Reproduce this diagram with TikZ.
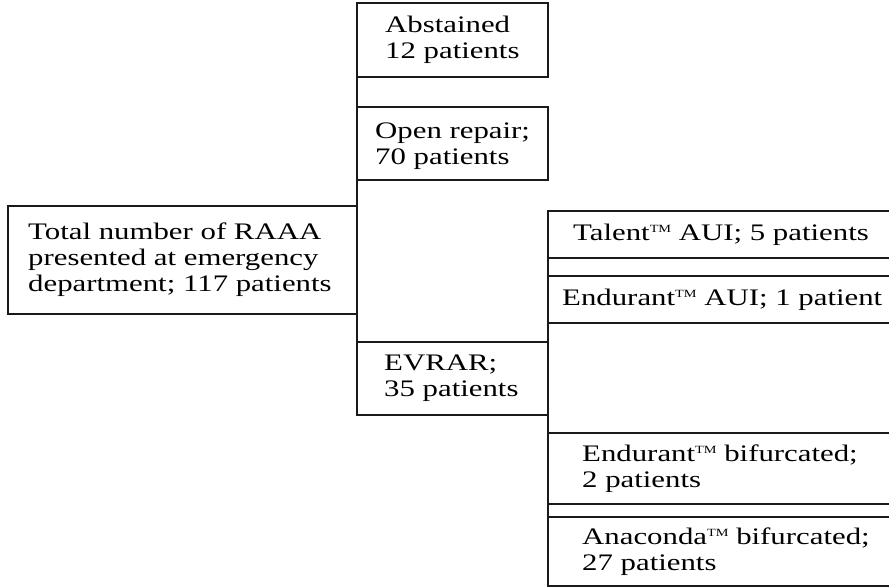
\documentclass[tikz,border=0pt]{standalone}
\usepackage{fontspec}
\setmainfont{Liberation Serif}[FakeStretch=1.3]
\definecolor{linecol}{HTML}{1A1A1A}
\newcommand{\tmark}{\raisebox{8pt}{\fontsize{11}{12}\selectfont TM}}
\begin{document}
\begin{tikzpicture}[x=1pt,y=-1pt,
  box/.style={draw=linecol, line width=1.8pt, anchor=north west,
    inner sep=0pt, outer sep=0pt},
  label/.style={anchor=west, align=left, inner sep=0pt,
    font=\fontsize{23.7}{26}\selectfont, text=black},
  link/.style={draw=linecol, line width=1.8pt}
]
\useasboundingbox (0,0) rectangle (889,588);
\clip (0,0) rectangle (889,588);
\fill[white] (0,0) rectangle (889,588);

% boxes
\node[box, minimum width=349pt, minimum height=108pt] (total) at (8,206) {};
\node[box, minimum width=191pt, minimum height=74pt] (abst) at (357,3) {};
\node[box, minimum width=191pt, minimum height=73pt] (open) at (357,107) {};
\node[box, minimum width=191pt, minimum height=73pt] (evrar) at (357,342) {};
\node[box, minimum width=352pt, minimum height=47pt] (talent) at (548,211) {};
\node[box, minimum width=352pt, minimum height=47pt] (endaui) at (548,276) {};
\node[box, minimum width=352pt, minimum height=71pt] (endbif) at (548,433) {};
\node[box, minimum width=352pt, minimum height=69pt] (anac) at (548,517) {};

% texts
\node[label] (totalt) at ([xshift=20pt]total.west)
  {Total number of RAAA\\presented at emergency\\department; 117 patients};
\node[label] (abstt) at ([xshift=28pt]abst.west) {Abstained\\12 patients};
\node[label] (opent) at ([xshift=18pt,yshift=-3pt]open.west) {Open repair;\\70 patients};
\node[label] (evrart) at ([xshift=27pt]evrar.west) {EVRAR;\\35 patients};
\node[label] (talentt) at ([xshift=25pt]talent.west) {Talent\tmark{} AUI; 5 patients};
\node[label] (endauit) at ([xshift=14pt]endaui.west) {Endurant\tmark{} AUI; 1 patient};
\node[label] (endbift) at ([xshift=34pt]endbif.west) {Endurant\tmark{} bifurcated;\\2 patients};
\node[label] (anact) at ([xshift=34pt]anac.west) {Anaconda\tmark{} bifurcated;\\27 patients};

% connectors
\draw[link] (abst.north west) -- (evrar.south west);
\draw[link] (talent.north west) -- (anac.south west);
\end{tikzpicture}
\end{document}
